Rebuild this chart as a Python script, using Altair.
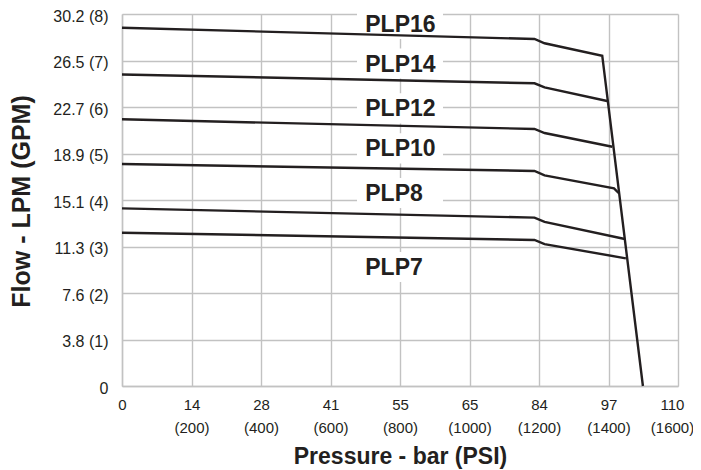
import altair as alt
import pandas as pd

# ---- data ----
series = ["PLP16", "PLP14", "PLP12", "PLP10", "PLP8", "PLP7"]

plp16_psi = [0, 1187, 1216, 1382, 1499]
plp16_gpm = [7.705, 7.462, 7.37, 7.103, 0.0]
plp14_psi = [0, 1187, 1216, 1396]
plp14_gpm = [6.70, 6.51, 6.42, 6.129]
plp12_psi = [0, 1187, 1216, 1411]
plp12_gpm = [5.735, 5.527, 5.44, 5.146]
plp10_psi = [0, 1187, 1216, 1416, 1429]
plp10_gpm = [4.774, 4.624, 4.53, 4.25, 4.15]
plp8_psi = [0, 1187, 1216, 1447]
plp8_gpm = [3.82, 3.62, 3.53, 3.161]
plp7_psi = [0, 1187, 1216, 1450]
plp7_gpm = [3.297, 3.14, 3.05, 2.746]

label_psi = [700, 700, 700, 700, 700, 700]
label_box_psi = [800, 800, 800, 800, 800, 800]
label_gpm = [7.785, 6.935, 5.97, 5.11, 4.15, 2.56]

x_tick_psi = [0, 200, 400, 600, 800, 1000, 1200, 1400, 1600]
x_tick_bar = ["0", "14", "28", "41", "55", "65", "84", "97", "110"]
y_tick_gpm = [0, 1, 2, 3, 4, 5, 6, 7, 8]
y_tick_lpm = ["0", "3.8", "7.6", "11.3", "15.1", "18.9", "22.7", "26.5", "30.2"]

# ---- build tables ----
all_psi = [plp16_psi, plp14_psi, plp12_psi, plp10_psi, plp8_psi, plp7_psi]
all_gpm = [plp16_gpm, plp14_gpm, plp12_gpm, plp10_gpm, plp8_gpm, plp7_gpm]
rows = []
for name, ps, gs in zip(series, all_psi, all_gpm):
    for i, (p, g) in enumerate(zip(ps, gs)):
        rows.append({"series": name, "psi": p, "gpm": g, "order": i})
lines_df = pd.DataFrame(rows)

labels_df = pd.DataFrame({
    "series": series,
    "psi": label_psi,
    "box_psi": label_box_psi,
    "gpm": label_gpm,
})

# axis label expressions
x_lab_arr = []
for p, b in zip(x_tick_psi, x_tick_bar):
    if p == 0:
        x_lab_arr.append("['%s']" % b)
    else:
        x_lab_arr.append("['%s','(%d)']" % (b, p))
x_label_expr = "[" + ",".join(x_lab_arr) + "][indexof([" + ",".join(str(v) for v in x_tick_psi) + "], datum.value)]"

y_lab_arr = []
for g, l in zip(y_tick_gpm, y_tick_lpm):
    if g == 0:
        y_lab_arr.append("'%s'" % l)
    else:
        y_lab_arr.append("'%s (%d)'" % (l, g))
y_label_expr = "[" + ",".join(y_lab_arr) + "][datum.value]"

FONT = "Liberation Sans"
INK = "#231f20"
GRID = "#c2c2c2"

x_scale = alt.Scale(domain=[0, 1600], nice=False, zero=False)
y_scale = alt.Scale(domain=[0, 8], nice=False, zero=False)

x_axis = alt.Axis(
    values=x_tick_psi,
    labelExpr=x_label_expr,
    title="Pressure - bar (PSI)",
    grid=True,
    gridColor=GRID,
    gridWidth=1.4,
    domainColor=GRID,
    domainWidth=1.4,
    ticks=False,
    labelFont=FONT,
    labelFontSize=15,
    labelColor=INK,
    labelBaseline="top",
    labelAlign="center",
    labelOffset={"condition": {"test": "datum.value == 1600", "value": -6}, "value": 0},
    labelPadding=11,
    labelLineHeight=23,
    labelOverlap=False,
    labelFlush=False,
    titleFont=FONT,
    titleFontSize=23,
    titleFontWeight="bold",
    titleColor=INK,
    titleBaseline="alphabetic",
    titleX=278,
    titleY=77,
)

y_axis = alt.Axis(
    values=y_tick_gpm,
    labelExpr=y_label_expr,
    title="Flow - LPM (GPM)",
    grid=True,
    gridColor=GRID,
    gridWidth=1.4,
    domainColor=GRID,
    domainWidth=1.4,
    ticks=False,
    labelFont=FONT,
    labelFontSize=16,
    labelColor=INK,
    labelPadding=14,
    labelOffset=2,
    labelOverlap=False,
    labelFlush=False,
    titleFont=FONT,
    titleFontSize=25,
    titleFontWeight="bold",
    titleColor=INK,
    titleAngle=270,
    titleBaseline="bottom",
    titleAlign="center",
    titleX=-88,
    titleY=187,
)

boxes = alt.Chart(labels_df).mark_point(
    shape="M-1,-0.35L1,-0.35L1,0.35L-1,0.35Z",
    filled=True,
    fill="white",
    opacity=1,
    strokeWidth=0,
    size=7396,
).encode(
    x=alt.X("box_psi:Q", scale=x_scale, axis=x_axis),
    y=alt.Y("gpm:Q", scale=y_scale, axis=y_axis),
)

lines = alt.Chart(lines_df).mark_line(
    color=INK, strokeWidth=2.4, strokeJoin="miter"
).encode(
    x=alt.X("psi:Q", scale=x_scale),
    y=alt.Y("gpm:Q", scale=y_scale),
    detail="series:N",
    order="order:Q",
)

texts = alt.Chart(labels_df).mark_text(
    font=FONT,
    fontSize=23,
    fontWeight="bold",
    color=INK,
    align="left",
    baseline="middle",
    dy=1,
).encode(
    x=alt.X("psi:Q", scale=x_scale),
    y=alt.Y("gpm:Q", scale=y_scale),
    text="series:N",
)

chart = alt.layer(boxes, lines, texts).properties(
    width=556,
    height=372,
    autosize=alt.AutoSizeParams(type="none"),
    padding={"left": 114, "top": 6, "right": 15, "bottom": 88},
).configure_view(
    strokeWidth=0
)

chart.save("out.html", embed_options={"renderer": "svg", "actions": False})
